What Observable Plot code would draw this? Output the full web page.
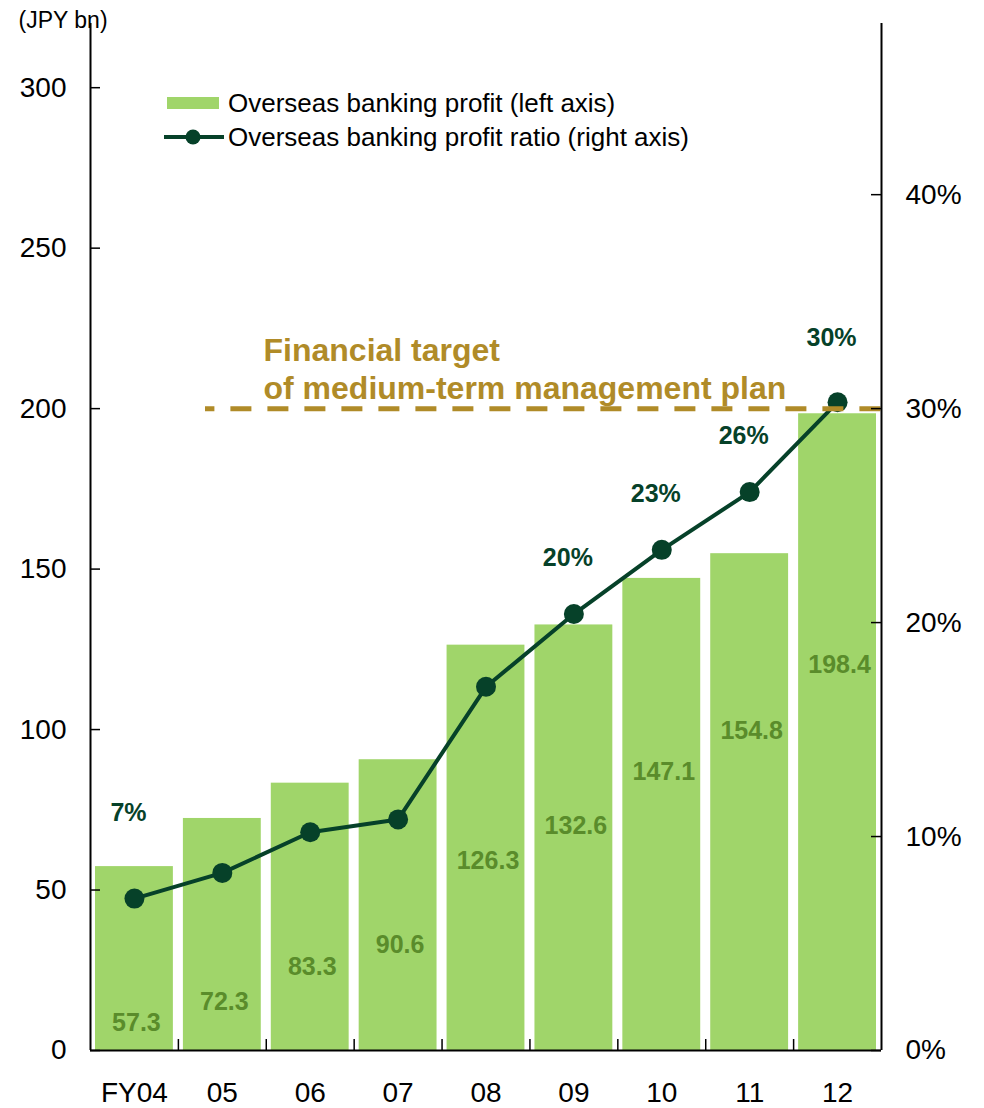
<!DOCTYPE html>
<html>
<head>
<meta charset="utf-8">
<script src="https://cdn.jsdelivr.net/npm/d3@7"></script>
<script src="https://cdn.jsdelivr.net/npm/@observablehq/plot@0.6"></script>
<style>
  body { margin: 0; background: #fff; font-family: "Liberation Sans", Arial, sans-serif; }
  #wrap { position: relative; width: 984px; height: 1108px; }
  .legend { position: absolute; left: 164px; top: 86px; font-size: 26px; color: #000; }
  .legend .row { display: flex; align-items: center; height: 34px; white-space: nowrap; }
</style>
</head>
<body>
<div id="wrap"></div>
<script>
// ---- data ----
const years = ["FY04", "05", "06", "07", "08", "09", "10", "11", "12"];
const profit = [57.3, 72.3, 83.3, 90.6, 126.3, 132.6, 147.1, 154.8, 198.4];          // JPY bn (left axis)
const ratio = [7.1, 8.3, 10.2, 10.8, 17.0, 20.4, 23.4, 26.1, 30.3];                  // % (right axis)
const ratioLabels = ["7%", "", "", "", "", "20%", "23%", "26%", "30%"];
const leftTicks = [0, 50, 100, 150, 200, 250, 300];
const rightTicks = [0, 10, 20, 30, 40];
const targetProfit = 200;
const seriesNames = ["Overseas banking profit (left axis)", "Overseas banking profit ratio (right axis)"];
const targetText = "Financial target\nof medium-term management plan";
const unitText = "(JPY bn)";
// annotation anchors (in axis units) as placed in the original
const profitLabelAt = [8.7, 15.0, 25.9, 33.0, 59.2, 69.8, 86.9, 99.4, 120.2];
const ratioLabelAt = [11.1, null, null, null, null, 23.0, 26.0, 28.7, 33.3];

// ---- styles ----
const BAR = "#A0D56A", BARLABEL = "#5A8C2B", LINE = "#064129", GOLD = "#B08B28";
const W = 984, H = 1108, ML = 90, MR = 103, MT = 23, MB = 58;
const K = targetProfit / 30; // left units per 1% (200 ↔ 30%)
const innerW = W - ML - MR, innerH = H - MT - MB;
const half = innerW / years.length / 2;

const data = years.map((year, i) => ({
  year, profit: profit[i], ratio: ratio[i],
  pAt: profitLabelAt[i], rLab: ratioLabels[i], rAt: ratioLabelAt[i]
}));

const chart = Plot.plot({
  width: W, height: H,
  marginLeft: ML, marginRight: MR, marginTop: MT, marginBottom: MB,
  style: { fontFamily: "'Liberation Sans', Arial, sans-serif", background: "white", color: "black", overflow: "visible" },
  x: { domain: years, paddingInner: 0.114, paddingOuter: 0.057, round: false, axis: null },
  y: { domain: [0, 320], axis: null },
  marks: [
    Plot.barY(data, { x: "year", y: "profit", fill: BAR }),
    Plot.text(data, { x: "year", y: "pAt", text: d => d.profit.toFixed(1), fill: BARLABEL, fontSize: 25, fontWeight: "bold", dx: 2 }),
    Plot.line(data, { x: "year", y: d => d.ratio * K, stroke: LINE, strokeWidth: 4 }),
    Plot.dot(data, { x: "year", y: d => d.ratio * K, r: 10, fill: LINE, stroke: null }),
    Plot.text(data.filter(d => d.rLab), { x: "year", y: d => d.rAt * K, text: "rLab", fill: LINE, fontSize: 25, fontWeight: "bold", dx: -6 }),
    Plot.ruleY([targetProfit], { stroke: GOLD, strokeWidth: 5, strokeDasharray: "21,16", strokeDashoffset: 11.6, insetLeft: 115, insetRight: -6 }),
    Plot.text([targetText], { frameAnchor: "top-left", dx: 173, dy: 310, textAnchor: "start", lineAnchor: "top", fontSize: 32, fontWeight: "bold", fill: GOLD, lineHeight: 1.19 }),
    // axis lines
    Plot.ruleY([0], { stroke: "black", strokeWidth: 2 }),
    Plot.ruleX([years[0]], { dx: -half, stroke: "black", strokeWidth: 2 }),
    Plot.ruleX([years[years.length - 1]], { dx: half, stroke: "black", strokeWidth: 2 }),
    // inward ticks
    Plot.ruleY(leftTicks, { stroke: "black", strokeWidth: 1.5, insetRight: innerW - 10 }),
    Plot.ruleY(rightTicks.map(p => p * K), { stroke: "black", strokeWidth: 1.5, insetLeft: innerW - 10 }),
    Plot.ruleX(years.slice(0, -1), { dx: half, stroke: "black", strokeWidth: 1.5, insetTop: innerH - 11 }),
    // axes
    Plot.axisY(leftTicks, { anchor: "left", tickSize: 0, tickPadding: 24, fontSize: 28, fill: "black", label: null }),
    Plot.axisY(rightTicks.map(p => p * K), { anchor: "right", tickSize: 0, tickPadding: 24, fontSize: 28, fill: "black", label: null, tickFormat: v => Math.round(v / K) + "%" }),
    Plot.axisX({ tickSize: 0, tickPadding: 32, fontSize: 28, fill: "black", label: null }),
    Plot.text([unitText], { frameAnchor: "top-left", dx: -72, dy: -3, textAnchor: "start", lineAnchor: "middle", fontSize: 23, fill: "black" })
  ]
});

const wrap = document.getElementById("wrap");
wrap.appendChild(chart);

const legend = document.createElement("div");
legend.className = "legend";
legend.innerHTML = `
  <div class="row"><span style="display:inline-block;width:52px;height:12px;background:${BAR};margin-left:3px;margin-right:9px"></span>${seriesNames[0]}</div>
  <div class="row"><svg width="60" height="20" style="margin-right:4px"><line x1="0" x2="60" y1="10" y2="10" stroke="${LINE}" stroke-width="4"/><circle cx="29" cy="10" r="7.5" fill="${LINE}"/></svg>${seriesNames[1]}</div>`;
wrap.appendChild(legend);
chart.style.position = "absolute";
chart.style.left = "0px";
chart.style.top = "0px";
</script>
</body>
</html>
